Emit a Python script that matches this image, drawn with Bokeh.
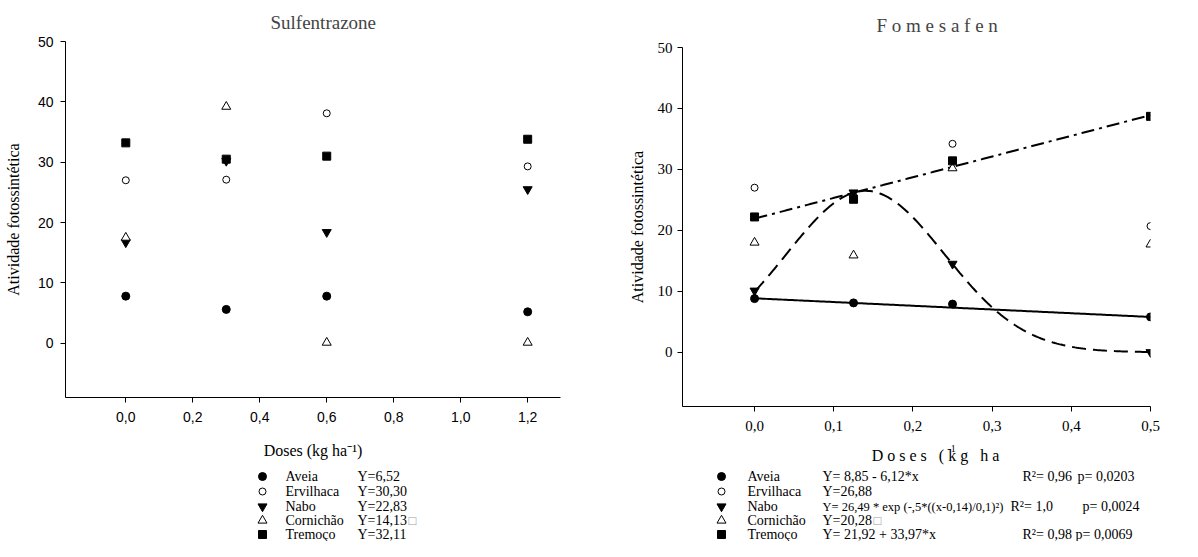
import numpy as np
from bokeh.plotting import figure
from bokeh.layouts import row, column
from bokeh.models import Range1d, FixedTicker
from bokeh.embed import file_html
from bokeh.resources import INLINE
from bokeh.core.properties import value

# ---------------- data ----------------
SPECIES = ["Aveia", "Ervilhaca", "Nabo", "Cornichão", "Tremoço"]

# Sulfentrazone panel
SULF_DOSES = [0.0, 0.3, 0.6, 1.2]
SULF_AVEIA = [7.8, 5.6, 7.8, 5.2]
SULF_ERVILHACA = [27.0, 27.1, 38.1, 29.3]
SULF_NABO = [16.7, 30.2, 18.4, 25.5]
SULF_CORNICHAO = [17.5, 39.2, 0.1, 0.1]
SULF_TREMOCO = [33.2, 30.5, 31.0, 33.8]
SULF_EQUATIONS = ["Y=6,52", "Y=30,30", "Y=22,83", "Y=14,13", "Y=32,11"]
SULF_X_TICKS = [0.0, 0.2, 0.4, 0.6, 0.8, 1.0, 1.2]
SULF_X_LABELS = ["0,0", "0,2", "0,4", "0,6", "0,8", "1,0", "1,2"]

# Fomesafen panel
FOME_DOSES = [0.0, 0.125, 0.25, 0.5]
FOME_AVEIA = [8.8, 8.1, 7.9, 5.8]
FOME_ERVILHACA = [27.0, 25.6, 34.2, 20.7]
FOME_NABO = [10.1, 26.2, 14.5, 0.0]
FOME_CORNICHAO = [18.0, 15.9, 30.2, 17.7]
FOME_TREMOCO = [22.2, 25.1, 31.4, 38.7]
AVEIA_FIT = [8.85, -6.12]          # a + b*x
NABO_FIT = [26.49, 0.14, 0.1]      # a*exp(-.5*((x-x0)/b)^2)
TREMOCO_FIT = [21.92, 33.97]       # a + b*x
FOME_EQUATIONS = ["Y= 8,85 - 6,12*x", "Y=26,88",
                  "Y= 26,49 * exp (-,5*((x-0,14)/0,1)²)", "Y=20,28",
                  "Y= 21,92 + 33,97*x"]
FOME_R2 = ["R²= 0,96", "", "R²= 1,0", "", "R²= 0,98"]
FOME_P = ["p= 0,0203", "", "p= 0,0024", "", "p= 0,0069"]
FOME_X_TICKS = [0.0, 0.1, 0.2, 0.3, 0.4, 0.5]
FOME_X_LABELS = ["0,0", "0,1", "0,2", "0,3", "0,4", "0,5"]

Y_TICKS = [0, 10, 20, 30, 40, 50]
Y_LABELS = ["0", "10", "20", "30", "40", "50"]

SERIF = "Liberation Serif"
SANS = "Liberation Sans"

MARKERS = [
    dict(marker="circle", size=8, fill_color="black", line_color="black"),
    dict(marker="circle", size=7, fill_color="white", line_color="black", line_width=1),
    dict(marker="inverted_triangle", size=9, fill_color="black", line_color="black"),
    dict(marker="triangle", size=9, fill_color="white", line_color="black", line_width=1),
    dict(marker="square", size=8, fill_color="black", line_color="black"),
]

# layout geometry (pixels inside each figure)
L_W, L_H, L_LEG_H = 618, 465, 76
L_BORDER = dict(left=65, right=58, top=41, bottom=68)
R_W, R_H, R_LEG_H = 564, 440, 101
R_BORDER = dict(left=64, right=32, top=47, bottom=34)


def style_axes(p, tick_font, tick_size, label_standoff_y, xlab_standoff):
    for ax in (p.xaxis[0], p.yaxis[0]):
        ax.axis_line_color = "black"
        ax.major_tick_line_color = "black"
        ax.major_tick_out = 5
        ax.major_tick_in = 0
        ax.minor_tick_line_color = None
        ax.major_label_text_font = tick_font
        ax.major_label_text_font_size = tick_size
        ax.major_label_text_color = "black"
        ax.axis_label_text_font = SERIF
        ax.axis_label_text_font_size = "16px"
        ax.axis_label_text_font_style = "normal"
        ax.axis_label_text_color = "black"
    p.yaxis[0].ticker = FixedTicker(ticks=Y_TICKS)
    p.yaxis[0].major_label_overrides = {t: l for t, l in zip(Y_TICKS, Y_LABELS)}
    p.yaxis[0].axis_label_standoff = label_standoff_y
    p.xaxis[0].axis_label_standoff = xlab_standoff
    p.grid.visible = False
    p.outline_line_color = None
    p.title.text_font = SERIF
    p.title.text_font_size = "19px"
    p.title.text_font_style = "normal"
    p.title.align = "left"


# ---------------- Sulfentrazone ----------------
left = figure(width=L_W, height=L_H, output_backend="svg", toolbar_location=None,
              x_range=Range1d(-0.18, 1.298), y_range=Range1d(-9, 50),
              min_border_left=L_BORDER["left"], min_border_right=L_BORDER["right"],
              min_border_top=L_BORDER["top"], min_border_bottom=L_BORDER["bottom"],
              title="Sulfentrazone")
left.xaxis.axis_label = "Doses (kg ha⁻¹)"
left.yaxis.axis_label = "Atividade fotossintética"
style_axes(left, SANS, "14px", 13, 17)
left.xaxis[0].ticker = FixedTicker(ticks=SULF_X_TICKS)
left.xaxis[0].major_label_overrides = {t: l for t, l in zip(SULF_X_TICKS, SULF_X_LABELS)}
left.xaxis[0].major_label_standoff = 9
left.yaxis[0].major_label_standoff = 7
left.title.offset = 205
left.title.standoff = 18

for ys, mk in zip([SULF_AVEIA, SULF_ERVILHACA, SULF_NABO, SULF_CORNICHAO, SULF_TREMOCO], MARKERS):
    left.scatter(SULF_DOSES, ys, **mk)

# ---------------- Fomesafen ----------------
right = figure(width=R_W, height=R_H, output_backend="svg", toolbar_location=None,
               x_range=Range1d(-0.091, 0.5), y_range=Range1d(-8.9, 50),
               min_border_left=R_BORDER["left"], min_border_right=R_BORDER["right"],
               min_border_top=R_BORDER["top"], min_border_bottom=R_BORDER["bottom"],
               title="F o m e s a f e n")
right.yaxis.axis_label = "Atividade fotossintética"
style_axes(right, SERIF, "15px", 9, 12)
right.xaxis[0].ticker = FixedTicker(ticks=FOME_X_TICKS)
right.xaxis[0].major_label_overrides = {t: l for t, l in zip(FOME_X_TICKS, FOME_X_LABELS)}
right.xaxis[0].major_label_standoff = 9
right.yaxis[0].major_label_standoff = 5
right.title.offset = 194
right.title.standoff = 24

xs = np.linspace(FOME_DOSES[0], FOME_DOSES[-1], 200)
right.line(xs, AVEIA_FIT[0] + AVEIA_FIT[1] * xs, line_color="black", line_width=2)
right.line(xs, NABO_FIT[0] * np.exp(-0.5 * ((xs - NABO_FIT[1]) / NABO_FIT[2]) ** 2),
           line_color="black", line_width=2, line_dash="14 7")
right.line(xs, TREMOCO_FIT[0] + TREMOCO_FIT[1] * xs, line_color="black", line_width=2,
           line_dash="13 5 3 5")

for ys, mk in zip([FOME_AVEIA, FOME_ERVILHACA, FOME_NABO, FOME_CORNICHAO, FOME_TREMOCO], MARKERS):
    right.scatter(FOME_DOSES, ys, **mk)


# ---------------- legend panels (pixel coordinates of the figure) ----------------
def legend_fig(width, height, border):
    f = figure(width=width, height=height, output_backend="svg", toolbar_location=None,
               x_range=Range1d(border["left"], width - border["right"]),
               y_range=Range1d(height, 0),
               x_axis_type=None, y_axis_type=None,
               min_border_left=border["left"], min_border_right=border["right"],
               min_border_top=0, min_border_bottom=0)
    f.grid.visible = False
    f.outline_line_color = None
    return f


def txt(f, x, y, text, size="14px", color="black", align="left"):
    f.text(x=x, y=y, text=text, text_font=value(SERIF), text_font_size=size,
           text_baseline="middle", text_align=align, text_color=color)


L_ROWS = [11, 26, 41, 55, 69]
lleg = legend_fig(L_W, L_LEG_H, L_BORDER)
for yy, mk in zip(L_ROWS, MARKERS):
    lleg.scatter([262], [yy], **mk)
txt(lleg, [285] * 5, L_ROWS, SPECIES)
txt(lleg, [357] * 5, L_ROWS, SULF_EQUATIONS)
txt(lleg, [408], [L_ROWS[3]], ["□"], size="13px", color="#9a9a9a")

R_ROWS = [36, 51, 66, 80, 94]
rleg = legend_fig(R_W, R_LEG_H, R_BORDER)
txt(rleg, [317], [15], ["D o s e s\u00a0\u00a0 ( k g\u00a0\u00a0 h a"], size="16px", align="center")
txt(rleg, [333], [8], ["-1"], size="10px", align="center")
for yy, mk in zip(R_ROWS, MARKERS):
    rleg.scatter([103], [yy], **mk)
txt(rleg, [129] * 5, R_ROWS, SPECIES)
eq_rows = [r for i, r in enumerate(R_ROWS) if i != 2]
eq_text = [e for i, e in enumerate(FOME_EQUATIONS) if i != 2]
txt(rleg, [204] * 4, eq_rows, eq_text)
txt(rleg, [204], [R_ROWS[2]], [FOME_EQUATIONS[2]], size="12.5px")
txt(rleg, [404, 404, 392, 404, 404], R_ROWS, FOME_R2)
txt(rleg, [459, 459, 464, 459, 457], R_ROWS, FOME_P)
txt(rleg, [255], [R_ROWS[3]], ["□"], size="13px", color="#9a9a9a")

layout = row(column(left, lleg), column(right, rleg))
open("out.html", "w").write(file_html(layout, INLINE))
